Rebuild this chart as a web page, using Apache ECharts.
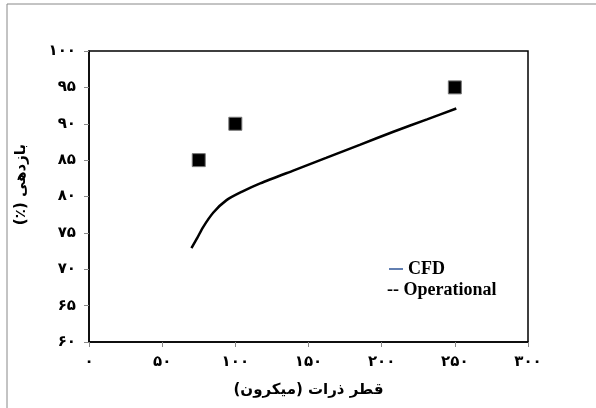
<!DOCTYPE html>
<html>
<head>
<meta charset="utf-8">
<script src="https://cdn.jsdelivr.net/npm/echarts@6/dist/echarts.min.js"></script>
<style>
  html, body { margin: 0; padding: 0; background: #fff; }
  #chart { width: 596px; height: 408px; }
</style>
</head>
<body>
<div id="chart"></div>
<script>
// CFD curve: [diameter (micron), efficiency (%)]
const cfdData = [
  [70, 72.9], [74, 74.3], [78, 75.8], [85, 77.8], [94, 79.5], [105, 80.7],
  [117, 81.8], [140, 83.6], [162, 85.3], [185, 87.1], [208, 88.9], [231, 90.6], [251, 92.1]
]
// operational measurements
const operationalData = [[75, 85], [100, 90], [250, 95]]

const xName = 'قطر ذرات (میکرون)'
const yName = '\u202Bبازدهی (٪)\u202C'
const faDigits = '۰۱۲۳۴۵۶۷۸۹'
const toFa = v => String(v).replace(/\d/g, d => faDigits[d])

const chart = echarts.init(document.getElementById('chart'))
const axisLabel = { color: '#000', fontWeight: 'bold', fontSize: 15, fontFamily: 'DejaVu Sans', formatter: toFa }

chart.setOption({
  animation: false,
  grid: { left: 89, right: 68, top: 51, bottom: 66, show: true, borderColor: '#000', borderWidth: 1.5 },
  graphic: [
    { type: 'rect', shape: { x: 7, y: 4, width: 620, height: 430 }, style: { fill: 'none', stroke: '#888', lineWidth: 1 } },
    { type: 'text', left: 387, top: 281, style: { text: '-- Operational', font: 'bold 18px "Liberation Serif"', fill: '#000' } }
  ],
  legend: {
    left: 384, top: 255,
    itemWidth: 14, itemHeight: 1.5, itemGap: 4,
    data: [{ name: 'CFD', icon: 'rect', itemStyle: { color: '#2e5597' } }],
    textStyle: { color: '#000', fontWeight: 'bold', fontSize: 18, fontFamily: 'Liberation Serif' }
  },
  xAxis: {
    type: 'value', min: 0, max: 300, interval: 50,
    name: xName, nameLocation: 'middle', nameGap: 41,
    nameTextStyle: { color: '#000', fontWeight: 'bold', fontSize: 15, fontFamily: 'DejaVu Sans' },
    axisLine: { lineStyle: { color: '#000', width: 1.5 } },
    axisTick: { show: true, length: 5, lineStyle: { color: '#888' } },
    axisLabel: Object.assign({ margin: 13 }, axisLabel),
    splitLine: { show: false }
  },
  yAxis: {
    type: 'value', min: 60, max: 100, interval: 5,
    name: yName, nameLocation: 'middle', nameGap: 60, nameRotate: 90,
    nameTextStyle: { color: '#000', fontWeight: 'bold', fontSize: 15, fontFamily: 'DejaVu Sans', padding: [0, 0, 0, 24] },
    axisLine: { show: true, lineStyle: { color: '#000', width: 1.5 } },
    axisTick: { show: true, length: 5, lineStyle: { color: '#888' } },
    axisLabel: Object.assign({ margin: 13 }, axisLabel),
    splitLine: { show: false }
  },
  series: [
    {
      name: 'CFD', type: 'line', data: cfdData, smooth: 0.25, showSymbol: false,
      lineStyle: { color: '#000', width: 2.5 }, itemStyle: { color: '#000' }
    },
    {
      name: 'Operational', type: 'scatter', data: operationalData,
      symbol: 'rect', symbolSize: 13,
      itemStyle: { color: '#000', borderColor: '#777', borderWidth: 1, opacity: 1 }
    }
  ]
})
</script>
</body>
</html>
